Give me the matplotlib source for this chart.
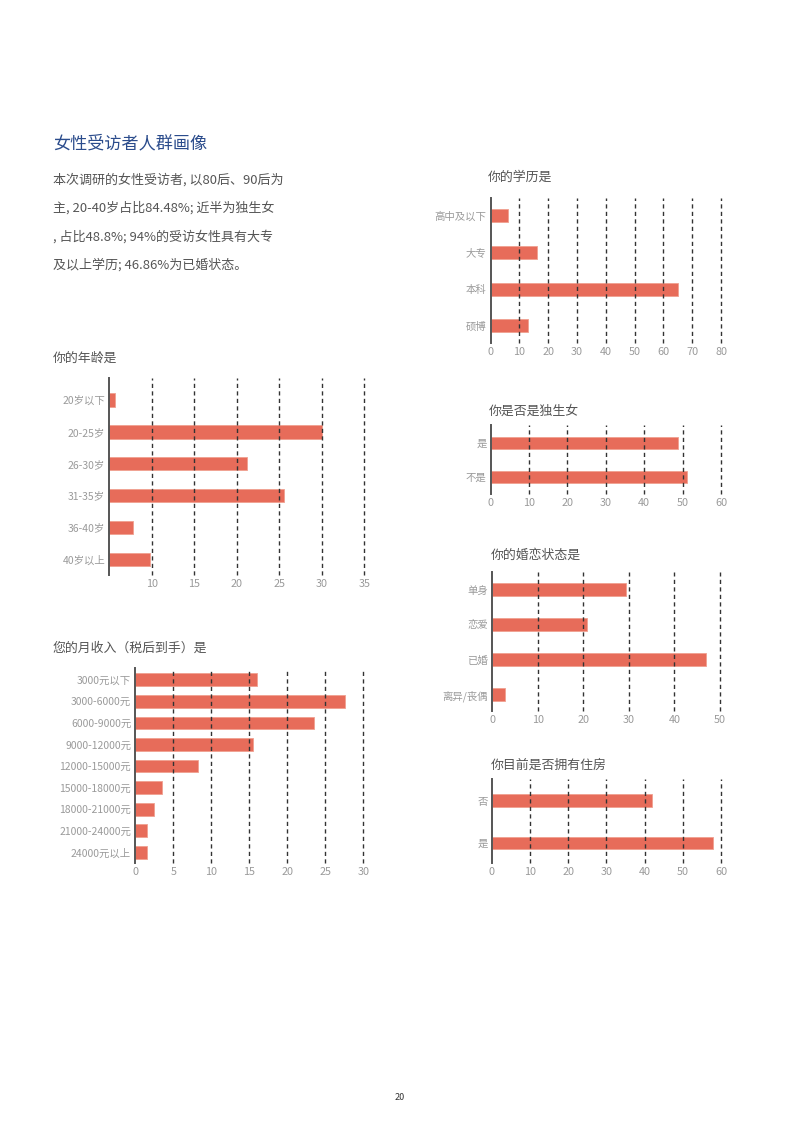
import matplotlib
matplotlib.use('Agg')
import matplotlib.pyplot as plt

plt.rcParams['font.family'] = ['Noto Sans CJK SC', 'DejaVu Sans']

# Data (percent of respondents)
edu_labels = ['高中及以下', '大专', '本科', '硕博']
edu_values = [5.9, 16.0, 65.2, 12.9]

age_labels = ['20岁以下', '20-25岁', '26-30岁', '31-35岁', '36-40岁', '40岁以上']
age_values = [5.7, 30.0, 21.2, 25.5, 7.78, 9.82]

income_labels = ['3000元以下', '3000-6000元', '6000-9000元', '9000-12000元',
                 '12000-15000元', '15000-18000元', '18000-21000元',
                 '21000-24000元', '24000元以上']
income_values = [16.05, 27.55, 23.5, 15.5, 8.2, 3.5, 2.4, 1.54, 1.58]

only_labels = ['是', '不是']
only_values = [48.8, 51.2]

marry_labels = ['单身', '恋爱', '已婚', '离异/丧偶']
marry_values = [29.3, 20.9, 46.86, 2.94]

house_labels = ['否', '是']
house_values = [42.0, 58.0]

W, H = 800, 1128
BAR = '#e76c5a'
TICK = '#9a9a9a'
TITLE = '#555555'

fig = plt.figure(figsize=(W / 100, H / 100), dpi=100)


def px_axes(x0, y0, x1, y1):
    return fig.add_axes([x0 / W, 1 - y1 / H, (x1 - x0) / W, (y1 - y0) / H])


def bar_chart(box, labels, values, xlim, ticks, ylim, height, title, title_xy):
    ax = px_axes(*box)
    ax.barh(range(len(labels)), values, height=height, color=BAR,
            edgecolor='#f0a090', linewidth=0.6, zorder=1)
    ax.set_xlim(*xlim)
    ax.set_ylim(*ylim)
    ax.set_yticks(range(len(labels)))
    ax.set_yticklabels(labels)
    ax.set_xticks(ticks)
    for s in ['top', 'right', 'bottom']:
        ax.spines[s].set_visible(False)
    ax.spines['left'].set_color('#555555')
    ax.spines['left'].set_linewidth(1.4)
    ax.spines['left'].set_zorder(3)
    ax.tick_params(axis='y', length=0, labelsize=7.5, labelcolor=TICK, pad=3)
    ax.tick_params(axis='x', length=0, labelsize=7.8, labelcolor=TICK, pad=3)
    for t in ticks:
        if t != xlim[0]:
            ax.axvline(t, color='#333333', linestyle=(0, (3, 2.4)), linewidth=1.0,
                       zorder=2, clip_on=False)
    ax.set_facecolor('none')
    fig.text(title_xy[0] / W, 1 - title_xy[1] / H, title, fontsize=9.3,
             color=TITLE, ha='left', va='center')
    return ax


# Education
bar_chart((490.7, 198.3, 721, 343.3), edu_labels, edu_values, (0, 80),
          range(0, 81, 10), (3.48, -0.48), 0.35, '你的学历是', (487.5, 177))

# Age
bar_chart((109.3, 378.3, 364.3, 575), age_labels, age_values, (5, 35),
          range(10, 36, 5), (5.49, -0.68), 0.42, '你的年龄是', (52.5, 358))

# Income
bar_chart((135.3, 668.3, 363.3, 863.3), income_labels, income_values, (0, 30),
          range(0, 31, 5), (8.51, -0.53), 0.59, '您的月收入（税后到手）是', (52.5, 648))

# Only child
bar_chart((490.7, 425, 721, 494), only_labels, only_values, (0, 60),
          range(0, 61, 10), (1.5, -0.51), 0.35, '你是否是独生女', (489, 411.5))

# Marriage
bar_chart((492, 572.3, 720, 711), marry_labels, marry_values, (0, 50),
          range(0, 51, 10), (3.47, -0.49), 0.355, '你的婚恋状态是', (491, 555))

# Housing
bar_chart((491.7, 779.3, 721, 863.3), house_labels, house_values, (0, 60),
          range(0, 61, 10), (1.47, -0.5), 0.29, '你目前是否拥有住房', (491, 765))

# Header and description
fig.text(53 / W, 1 - 143 / H, '女性受访者人群画像', fontsize=12.3,
         color='#2b4c8c', ha='left', va='center')
body = ['本次调研的女性受访者, 以80后、90后为',
        '主, 20-40岁占比84.48%; 近半为独生女',
        ', 占比48.8%; 94%的受访女性具有大专',
        '及以上学历; 46.86%为已婚状态。']
for i, line in enumerate(body):
    fig.text(53 / W, 1 - (180 + 28.3 * i) / H, line, fontsize=9.4,
             color='#555555', ha='left', va='center')

fig.text(400 / W, 1 - 1097 / H, '20', fontsize=6.5, color='#333333',
         ha='center', va='center')

plt.savefig('out.png', dpi=100)
